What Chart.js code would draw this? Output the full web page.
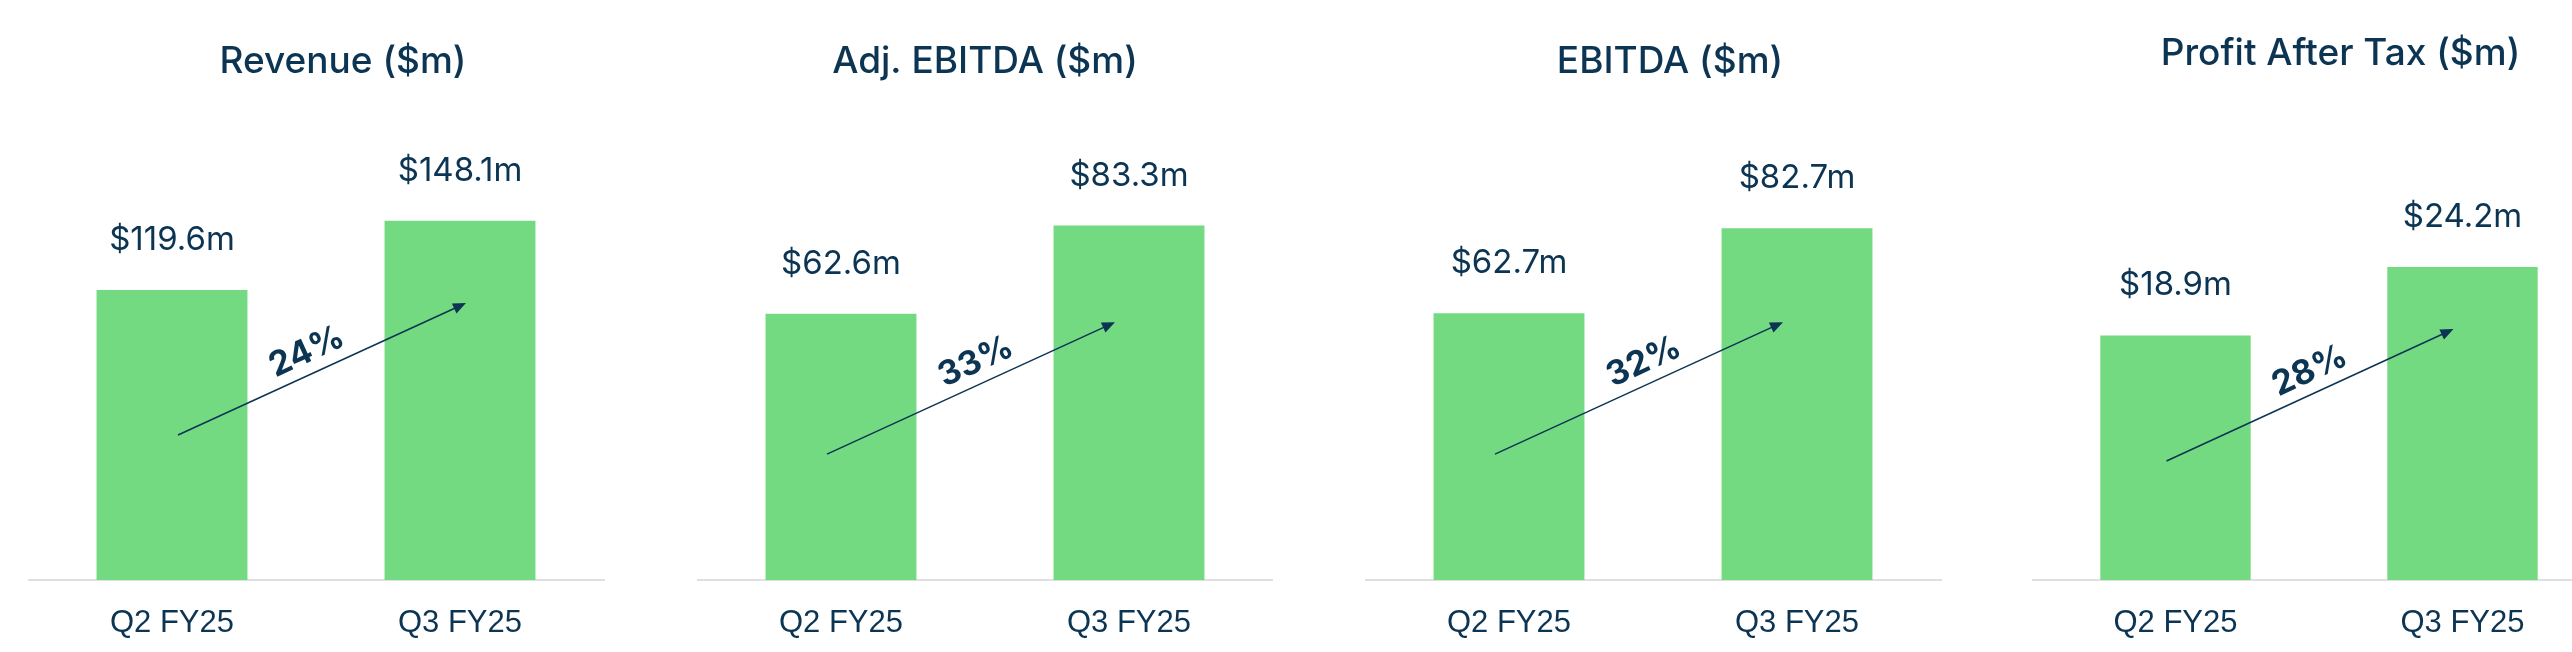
<!DOCTYPE html>
<html>
<head>
<meta charset="utf-8">
<title>Quarterly results</title>
<script src="https://cdn.jsdelivr.net/npm/chart.js@4.4.1/dist/chart.umd.min.js"></script>
<style>
    html, body { margin: 0; padding: 0; width: 2572px; height: 652px; overflow: hidden; background: #ffffff; }
    .box { position: absolute; top: 0; height: 652px; }
</style>
</head>
<body>
<div class="box" id="box0"><canvas id="chart0"></canvas></div>
<div class="box" id="box1"><canvas id="chart1"></canvas></div>
<div class="box" id="box2"><canvas id="chart2"></canvas></div>
<div class="box" id="box3"><canvas id="chart3"></canvas></div>
<script>
const categories = ['Q2 FY25', 'Q3 FY25'];
const titles = ['Revenue ($m)', 'Adj. EBITDA ($m)', 'EBITDA ($m)', 'Profit After Tax ($m)'];
const revenue = [119.6, 148.1];
const adjEbitda = [62.6, 83.3];
const ebitda = [62.7, 82.7];
const profitAfterTax = [18.9, 24.2];
const growth = ['24%', '33%', '32%', '28%'];
const axisMax = [200, 114, 114, 37.5];
// growth arrow start / end, in $m on each chart's own axis
const arrowFrom = [59.8, 29.6, 29.6, 9.2];
const arrowTo = [114.2, 60.6, 60.6, 19.4];

const series = [revenue, adjEbitda, ebitda, profitAfterTax];

// layout (pixels)
const boxLeft = [28, 697, 1365, 2032];
const plotWidth = [576, 576, 576, 574];
const rightGap = [54, 0, 34, 43];
const titleTop = [40, 40, 40, 32];
const arrowDx = [6, -14, -14, -9];

const navy = '#0c3453';
const green = '#74da82';

const growthArrow = {
    id: 'growthArrow',
    afterDatasetsDraw(chart, args, opts) {
        const ctx = chart.ctx;
        const xs = chart.scales.x;
        const ys = chart.scales.y;
        const meta = chart.getDatasetMeta(0);
        const values = chart.data.datasets[0].data;

        ctx.save();
        ctx.fillStyle = navy;
        ctx.textAlign = 'center';
        ctx.textBaseline = 'middle';
        ctx.font = '400 33px Inter';
        meta.data.forEach((bar, i) => {
            ctx.fillText('$' + values[i].toFixed(1) + 'm', bar.x, bar.y - 50);
        });

        const x0 = xs.getPixelForValue(0) + opts.dx;
        const y0 = ys.getPixelForValue(opts.from);
        const x1 = xs.getPixelForValue(1) + opts.dx;
        const y1 = ys.getPixelForValue(opts.to);
        const ang = Math.atan2(y1 - y0, x1 - x0);
        const ux = Math.cos(ang), uy = Math.sin(ang);

        ctx.strokeStyle = navy;
        ctx.lineWidth = 1.5;
        ctx.beginPath();
        ctx.moveTo(x0, y0);
        ctx.lineTo(x1 - 10 * ux, y1 - 10 * uy);
        ctx.stroke();

        ctx.save();
        ctx.translate(x1, y1);
        ctx.rotate(ang);
        ctx.beginPath();
        ctx.moveTo(0, 0);
        ctx.lineTo(-13, -5.5);
        ctx.lineTo(-13, 5.5);
        ctx.closePath();
        ctx.fill();
        ctx.restore();

        // percentage sits above the arrow, halfway between the bars
        const mx = (xs.getPixelForValue(0) + xs.getPixelForValue(1)) / 2;
        const my = y0 + (mx - x0) * Math.tan(ang);
        ctx.translate(mx + uy * 22, my - ux * 22);
        ctx.rotate(ang);
        ctx.font = '700 34px Inter';
        ctx.fillText(opts.text, 0, 0);
        ctx.restore();
    }
};

series.forEach((values, i) => {
    const box = document.getElementById('box' + i);
    box.style.left = boxLeft[i] + 'px';
    box.style.width = (plotWidth[i] + rightGap[i]) + 'px';

    new Chart(document.getElementById('chart' + i), {
        type: 'bar',
        data: {
            labels: categories,
            datasets: [{
                data: values,
                backgroundColor: green,
                barPercentage: 0.524,
                categoryPercentage: 1
            }]
        },
        options: {
            responsive: true,
            maintainAspectRatio: false,
            animation: false,
            layout: { padding: 0 },
            plugins: {
                legend: { display: false },
                tooltip: { enabled: false },
                title: {
                    display: true,
                    text: titles[i],
                    color: navy,
                    font: { family: 'Inter', size: 37, weight: '500', lineHeight: 1.2 },
                    padding: { top: titleTop[i], bottom: 95 - titleTop[i] - 44.4 }
                },
                growthArrow: {
                    from: arrowFrom[i],
                    to: arrowTo[i],
                    text: growth[i],
                    dx: arrowDx[i]
                }
            },
            scales: {
                x: {
                    grid: { display: false, drawTicks: false },
                    border: { display: true, color: '#e0e0e0', width: 2 },
                    ticks: {
                        color: navy,
                        font: { family: 'Liberation Sans', size: 31 },
                        padding: 25
                    },
                    afterFit: s => { s.height = 72; }
                },
                y: {
                    position: 'right',
                    min: 0,
                    max: axisMax[i],
                    grid: { display: false, drawTicks: false },
                    border: { display: false },
                    ticks: { display: false },
                    afterFit: s => { s.width = rightGap[i]; }
                }
            }
        },
        plugins: [growthArrow]
    });
});
</script>
</body>
</html>
